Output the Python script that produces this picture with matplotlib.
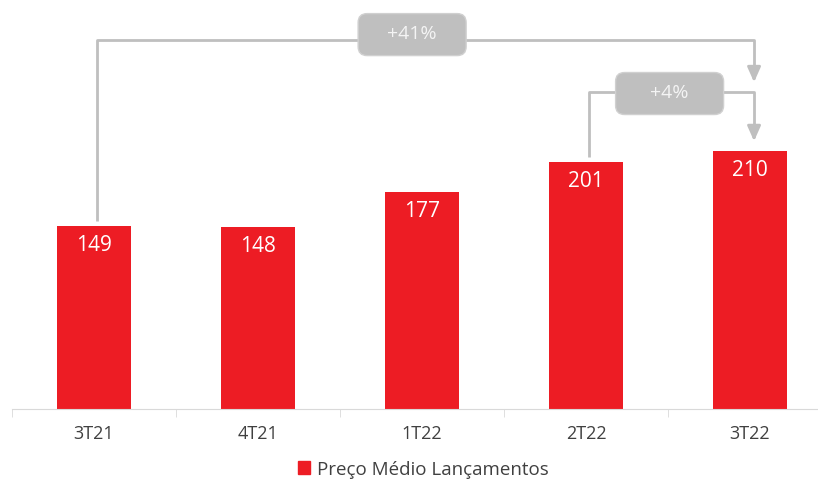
import matplotlib.pyplot as plt
from matplotlib.patches import FancyBboxPatch, Patch

categories = ['3T21', '4T21', '1T22', '2T22', '3T22']
values = [149, 148, 177, 201, 210]
series_name = 'Preço Médio Lançamentos'
# (from index, to index, label)
comparisons = [(0, 4, '+41%'), (3, 4, '+4%')]

plt.rcParams['font.family'] = ['Open Sans', 'DejaVu Sans']

RED = '#ED1C24'
GRAY = '#BFBFBF'
TXT = '#404040'

fig = plt.figure(figsize=(8.18, 4.81), dpi=100)
ax = fig.add_axes([12 / 818, 71 / 481, 806 / 818, 410 / 481])

x = list(range(len(categories)))
ax.bar(x, values, width=0.45, color=RED, zorder=2)
for xi, v in zip(x, values):
    ax.text(xi, v - 15, str(v), ha='center', va='center', color='white', fontsize=15)

for s in ['top', 'right', 'left']:
    ax.spines[s].set_visible(False)
ax.spines['bottom'].set_color('#D9D9D9')
ax.set_yticks([])
ax.set_xticks(x)
ax.set_xticklabels(categories, fontsize=13, color=TXT)
ax.tick_params(axis='x', which='major', length=0, pad=11)
ax.set_xticks([i - 0.5 for i in range(len(categories))], minor=True)
ax.tick_params(axis='x', which='minor', length=6, color='#D9D9D9')
ax.set_xlim(-0.5, 4.415)
ax.set_ylim(0, 334)

# pixels per data unit, for the rounded boxes
px_x = 806 / (4.415 + 0.5)
px_y = 410 / 334

line_y = {'+41%': 301, '+4%': 258}
box_y = {'+41%': 305, '+4%': 257}
box_x = {'+41%': 1.94, '+4%': 3.51}
tip_gap = {'+41%': 54, '+4%': 6}

for i0, i1, lab in comparisons:
    ly = line_y[lab]
    x0 = i0 + 0.02
    x1 = i1 + 0.025
    ax.plot([x0, x0, x1, x1], [values[i0] + 4, ly, ly, values[i1] + tip_gap[lab] + 9],
            color=GRAY, lw=2, zorder=1, solid_capstyle='butt')
    ax.annotate('', xy=(x1, values[i1] + tip_gap[lab]), xytext=(x1, values[i1] + tip_gap[lab] + 10),
                arrowprops=dict(arrowstyle='-|>,head_length=0.9,head_width=0.4', color=GRAY, lw=2),
                zorder=1)
    w = 108 / px_x
    h = 42 / px_y
    r = 9 / px_x
    box = FancyBboxPatch((box_x[lab] - w / 2, box_y[lab] - h / 2), w, h,
                         boxstyle=f'round,pad=0,rounding_size={r}',
                         mutation_aspect=(9 / px_y) / r,
                         fc=GRAY, ec='#D0D0D0', lw=1, zorder=3)
    ax.add_patch(box)
    ax.text(box_x[lab], box_y[lab] + 1, lab, ha='center', va='center', color='#F4F4F4',
            fontsize=14, zorder=4)

fig.legend(handles=[Patch(color=RED, label=series_name)], loc='center',
           bbox_to_anchor=(0.518, 0.022), frameon=False, fontsize=13.5,
           handlelength=0.6, handleheight=0.7, handletextpad=0.4, labelcolor=TXT,
           borderpad=0.2)

fig.savefig('out.png', dpi=100)
